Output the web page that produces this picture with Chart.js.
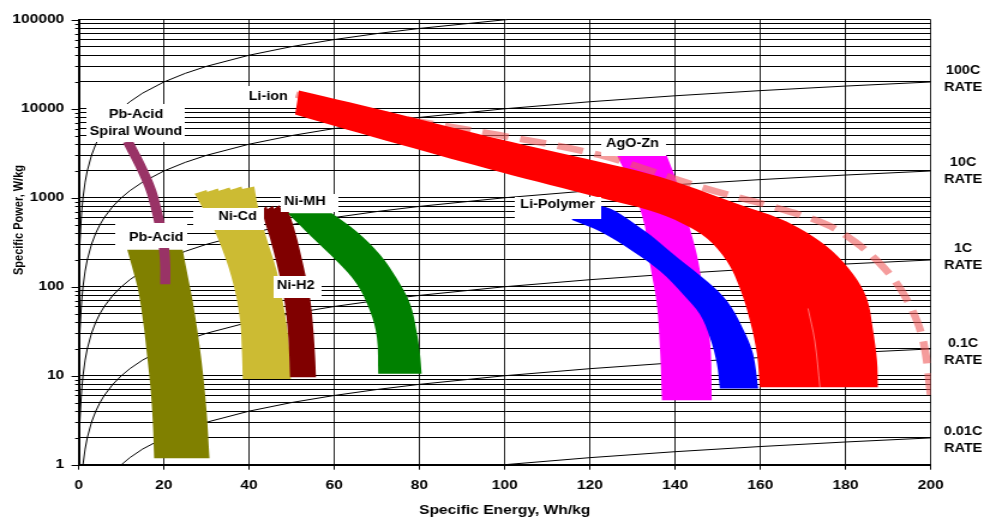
<!DOCTYPE html>
<html>
<head>
<meta charset="utf-8">
<title>Specific Power vs Specific Energy</title>
<script src="https://cdn.jsdelivr.net/npm/chart.js@4.4.1/dist/chart.umd.min.js"></script>
<style>
  html, body { margin: 0; padding: 0; background: #fff; overflow: hidden; }
  #wrap { width: 984px; height: 523px; overflow: hidden; }
  /* the plot is laid out on an 820px-wide canvas and widened to the page */
  #c { display: block; width: 820px; height: 523px; transform: scaleX(1.2); transform-origin: 0 0; }
</style>
</head>
<body>
<div id="wrap"><canvas id="c" width="820" height="523"></canvas></div>
<script>
// ---------- axis ticks ----------
const energyTicks = [0, 20, 40, 60, 80, 100, 120, 140, 160, 180, 200];
const powerDecades = [1, 10, 100, 1000, 10000, 100000];
const minorSteps = [2, 3, 4, 5, 6, 7, 8, 9];

// ---------- constant discharge-rate lines: P = rate x E ----------
const rateValues = [0.01, 0.1, 1, 10, 100, 1000];
const rateNames = ['100C', '10C', '1C', '0.1C', '0.01C'];
const rateNamePower = [21500, 2000, 216, 18.3, 1.91];   // where each name sits along the right edge
const energySamples = [0.001, 0.0015, 0.002, 0.003, 0.005, 0.007, 0.01, 0.015, 0.02, 0.03, 0.05, 0.07,
  0.1, 0.15, 0.2, 0.3, 0.5, 0.7, 1, 1.5, 2, 3, 4, 5, 6, 8, 10, 12, 15, 20, 25, 30, 40, 50, 60, 70,
  80, 100, 120, 140, 160, 180, 200];

// ---------- technology regions, [specific energy Wh/kg, specific power W/kg] ----------
const pbAcidLeft  = [[11.4, 260], [12.8, 149], [14.0, 89], [15.2, 38], [16.1, 16], [16.9, 6.8], [17.4, 2.9], [17.7, 1.18]];
const pbAcidRight = [[24.4, 260], [25.7, 125], [26.9, 63], [28.1, 26.8], [29.1, 11.4], [30.0, 4.1], [30.7, 1.18]];

const spiralWound = [[11.5, 4300], [14.8, 2120], [17.1, 1160], [18.7, 590], [19.9, 296], [20.3, 177], [20.3, 107]];

const niCdLeft  = [[27.2, 1110], [29.6, 696], [32.0, 416], [34.7, 193], [36.7, 89], [37.9, 41], [38.3, 19], [38.5, 9.2]];
const niCdRight = [[41.2, 1340], [42.1, 788], [44.1, 350], [46.5, 149], [48.0, 64], [49.2, 26.8], [49.8, 9.2]];
const niCdTop   = [[38.4, 1257], [38.2, 1334], [35.7, 1225], [35.4, 1300], [32.9, 1194], [32.7, 1267], [30.2, 1164], [30.0, 1225]];

const niH2Left  = [[43.0, 743], [43.7, 538], [44.9, 350], [46.9, 149], [48.4, 64], [49.2, 26.8], [49.6, 9.6]];
const niH2Right = [[48.8, 823], [50.8, 416], [52.7, 177], [54.3, 75], [55.1, 31.9], [55.5, 16.0], [55.7, 9.6]];
const niH2Top   = [[47.4, 762], [47.1, 823], [45.8, 752], [45.6, 812], [44.3, 743], [44.1, 802]];

const niMhLeft  = [[49.1, 670], [55.0, 350], [60.6, 193], [65.3, 107], [68.4, 53], [70.0, 26.8], [70.3, 10.5]];
const niMhRight = [[59.4, 670], [65.3, 416], [70.7, 231], [74.6, 125], [77.8, 64], [79.3, 31.9], [80.1, 17.7], [80.5, 10.5]];

const agoZnLeft  = [[126.3, 3000], [130.1, 1257], [132.9, 474], [134.1, 179], [135.7, 64], [136.5, 17.7], [136.9, 5.3]];
const agoZnRight = [[138.0, 3000], [140.4, 1505], [143.0, 538], [145.1, 231], [146.5, 96], [147.7, 41], [148.4, 17.7], [148.6, 5.3]];

const liPolyInner = [[115.8, 563], [122.4, 417], [130.1, 249], [136.5, 149], [141.9, 82], [145.8, 49], [148.2, 26.6], [149.8, 13.6], [150.5, 7.2]];
const liPolyOuter = [[115.8, 593], [122.4, 813], [131.8, 461], [141.1, 203], [147.5, 115], [152.2, 69], [155.9, 34], [158.3, 17.7], [159.5, 7.2]];

const liIonInner = [[50.8, 8630], [75.4, 3960], [98.9, 1945], [122.4, 998], [134.2, 713], [141.8, 512], [147.5, 348],
  [152.2, 192], [155.2, 96], [157.6, 41], [159.2, 17.7], [159.9, 7.4]];
const liIonOuter = [[51.7, 16000], [75.4, 8650], [98.9, 4550], [122.4, 2520], [134.2, 1841], [141.8, 1420], [155.2, 834],
  [164.6, 581], [170.9, 406], [177.0, 249], [181.8, 138], [185.0, 74], [186.4, 34], [187.4, 14.7], [187.6, 7.4]];
// faint join between the two overlapping Li-ion patches
const liIonSeam = [[171.2, 57], [172.8, 24.5], [174.0, 7.4]];

const liIonProjected = [[51.0, 14450], [75.4, 7900], [98.9, 5035], [122.4, 3010], [145.9, 1323], [164.6, 752],
  [175.6, 499], [182.2, 320], [188.1, 182], [192.8, 96], [196.8, 41], [198.7, 19], [200.0, 6.0]];

// region outlines: first edge runs top to bottom, second is walked back up, optional third closes the top
const regions = [
  { name: 'Pb-Acid',    color: '#808000', edges: [pbAcidLeft, pbAcidRight], order: 50 },
  { name: 'Ni-Cd',      color: '#ccbb33', edges: [niCdLeft, niCdRight, niCdTop], order: 40 },
  { name: 'Ni-H2',      color: '#800000', edges: [niH2Left, niH2Right, niH2Top], order: 35 },
  { name: 'Ni-MH',      color: '#008000', edges: [niMhLeft, niMhRight], order: 30 },
  { name: 'AgO-Zn',     color: '#ff00ff', edges: [agoZnLeft, agoZnRight], order: 25 },
  { name: 'Li-Polymer', color: '#0000ff', edges: [liPolyInner, liPolyOuter], order: 20 },
  { name: 'Li-ion',     color: '#ff0000', edges: [liIonInner, liIonOuter], order: 10 }
];

// text boxes: anchor in data units, box extents in px around the text centre [left, right, top, bottom]
const regionNotes = [
  { lines: ['Pb-Acid', 'Spiral Wound'], e: 13.45, p: 6890, box: [-41, 41, -19, 19.2] },
  { lines: ['Pb-Acid'],    e: 18.2,  p: 357,   box: [-34.4, 25.3, -14.3, 10.7] },
  { lines: ['Ni-Cd'],      e: 37.3,  p: 612,   box: [-37, 21.5, -8.3, 13.3] },
  { lines: ['Ni-MH'],      e: 53.1,  p: 896,   box: [-20, 27.5, -8.3, 10] },
  { lines: ['Ni-H2'],      e: 50.95, p: 104,   box: [-18.7, 21.6, -9, 12.7] },
  { lines: ['Li-ion'],     e: 44.5,  p: 13720, box: [-21, 22, -10.7, 11] },
  { lines: ['AgO-Zn'],     e: 130.0, p: 4027,  box: [-25.8, 28.3, -8.4, 11.6] },
  { lines: ['Li-Polymer'], e: 112.4, p: 827,   box: [-35.4, 36.8, -8.3, 13.4] }
];

const FONT = "'Liberation Sans', Arial, Helvetica, sans-serif";
Chart.defaults.font.family = FONT;
Chart.defaults.font.weight = 'bold';
Chart.defaults.color = '#000';

const toPoints = pairs => pairs.map(([x, y]) => ({ x, y }));
const powerTicks = powerDecades.flatMap(d => d === 100000 ? [d] : [d, ...minorSteps.map(m => m * d)]);

const datasets = [];

rateValues.forEach(rate => datasets.push({
  label: rate + 'C',
  data: energySamples.map(e => ({ x: e, y: rate * e })),
  borderColor: '#000', borderWidth: 1, pointRadius: 0, tension: 0, order: 100
}));

regions.forEach((reg, bi) => reg.edges.forEach((edge, ei) => datasets.push({
  label: reg.name,
  data: toPoints(edge),
  borderWidth: 0, pointRadius: 0,
  tension: ei === 2 ? 0.001 : 0.35,
  backgroundColor: reg.color, borderColor: reg.color,
  order: reg.order, regionId: bi, edgeIndex: ei
})));

datasets.push({
  label: 'Pb-Acid Spiral Wound', data: toPoints(spiralWound),
  borderColor: '#993366', borderWidth: 8.5, borderCapStyle: 'butt',
  pointRadius: 0, tension: 0.35, order: 45
});
datasets.push({
  label: 'Li-ion projected', data: toPoints(liIonProjected),
  borderColor: 'rgba(238,90,90,0.6)', borderWidth: 6.5, borderDash: [22, 10], borderCapStyle: 'butt',
  pointRadius: 0, tension: 0.35, order: 15
});
datasets.push({
  label: 'Li-ion join', data: toPoints(liIonSeam),
  borderColor: 'rgba(255,255,255,0.55)', borderWidth: 0.8,
  pointRadius: 0, tension: 0.35, order: 5
});

// fills each region between its edge lines, using the line elements laid out by the chart
const regionFill = {
  id: 'regionFill',
  beforeDatasetDraw(chart, args) {
    const ds = chart.data.datasets[args.index];
    if (ds.edgeIndex !== 0) return;
    const { ctx, chartArea: area } = chart;
    const lines = chart.data.datasets
      .map((d, i) => ({ d, i }))
      .filter(o => o.d.regionId === ds.regionId)
      .sort((a, b) => a.d.edgeIndex - b.d.edgeIndex)
      .map(o => chart.getDatasetMeta(o.i).dataset);
    ctx.save();
    ctx.beginPath();
    ctx.rect(area.left, area.top, area.width, area.height);
    ctx.clip();
    ctx.beginPath();
    lines.forEach((line, k) => {
      line.updateControlPoints(area, 'x');
      line.segments.forEach((seg, s) =>
        line.pathSegment(ctx, seg, { move: k === 0 && s === 0, reverse: k === 1 }));
    });
    ctx.closePath();
    ctx.fillStyle = ds.backgroundColor;
    ctx.fill();
    ctx.restore();
  }
};

// white boxed region names
const regionLabels = {
  id: 'regionLabels',
  afterDatasetsDraw(chart) {
    const { ctx, scales: { x, y } } = chart;
    ctx.save();
    ctx.font = 'bold 12px ' + FONT;
    ctx.textAlign = 'center';
    ctx.textBaseline = 'middle';
    regionNotes.forEach(n => {
      const cx = x.getPixelForValue(n.e);
      const cy = y.getPixelForValue(n.p);
      const [l, r, t, b] = n.box;
      ctx.fillStyle = '#fff';
      ctx.fillRect(Math.round(cx + l), Math.round(cy + t), Math.round(r - l), Math.round(b - t));
      ctx.fillStyle = '#000';
      n.lines.forEach((s, i) => ctx.fillText(s, cx, cy + (i - (n.lines.length - 1) / 2) * 16.5));
    });
    ctx.restore();
  }
};

// rate names beside the right edge, y-axis tick marks and y-axis title
const frameText = {
  id: 'frameText',
  afterDraw(chart) {
    const { ctx, chartArea: a, scales: { y } } = chart;
    ctx.save();
    ctx.fillStyle = '#000';
    ctx.strokeStyle = '#000';
    ctx.lineWidth = 1;
    y.ticks.forEach(t => {
      const py = Math.round(y.getPixelForValue(t.value)) + 0.5;
      const len = powerDecades.includes(t.value) ? 6 : 3;
      ctx.beginPath();
      ctx.moveTo(a.left - len, py);
      ctx.lineTo(a.left, py);
      ctx.stroke();
    });
    ctx.font = 'bold 12px ' + FONT;
    ctx.textAlign = 'center';
    ctx.textBaseline = 'middle';
    rateNames.forEach((name, i) => {
      const py = y.getPixelForValue(rateNamePower[i]);
      ctx.fillText(name, a.right + 27, py - 8.5);
      ctx.fillText('RATE', a.right + 27, py + 8.5);
    });
    ctx.font = 'bold 11px ' + FONT;
    ctx.translate(16.4, 220);
    ctx.rotate(-Math.PI / 2);
    ctx.fillText('Specific Power, W/kg', 0, 0);
    ctx.restore();
  }
};

new Chart(document.getElementById('c'), {
  type: 'line',
  data: { datasets },
  options: {
    responsive: false,
    maintainAspectRatio: false,
    animation: false,
    events: [],
    layout: { padding: { top: 16.7, right: 44.4, bottom: 0, left: 0 } },
    plugins: { legend: { display: false }, tooltip: { enabled: false } },
    scales: {
      x: {
        type: 'linear', min: 0, max: 200,
        afterBuildTicks: s => { s.ticks = energyTicks.map(v => ({ value: v })); },
        afterFit: s => { s.height = 58.3; },
        ticks: { padding: 8, maxRotation: 0, autoSkip: false, font: { size: 13, weight: 'bold' } },
        grid: { color: '#222', lineWidth: 1, tickLength: 5, tickColor: '#000' },
        border: { color: '#000', width: 2 },
        title: { display: true, text: 'Specific Energy, Wh/kg', font: { size: 13, weight: 'bold' }, padding: { top: 0, bottom: 5 } }
      },
      y: {
        type: 'logarithmic', min: 1, max: 100000,
        afterBuildTicks: s => { s.ticks = powerTicks.map(v => ({ value: v })); },
        afterFit: s => { s.width = 65.6; },
        ticks: {
          autoSkip: false, padding: 12, font: { size: 13, weight: 'bold' },
          callback: v => powerDecades.includes(v) ? String(v) : ''
        },
        grid: { color: '#000', lineWidth: 1, drawTicks: false },
        border: { color: '#000', width: 2 }
      }
    }
  },
  plugins: [regionFill, regionLabels, frameText]
});
</script>
</body>
</html>
